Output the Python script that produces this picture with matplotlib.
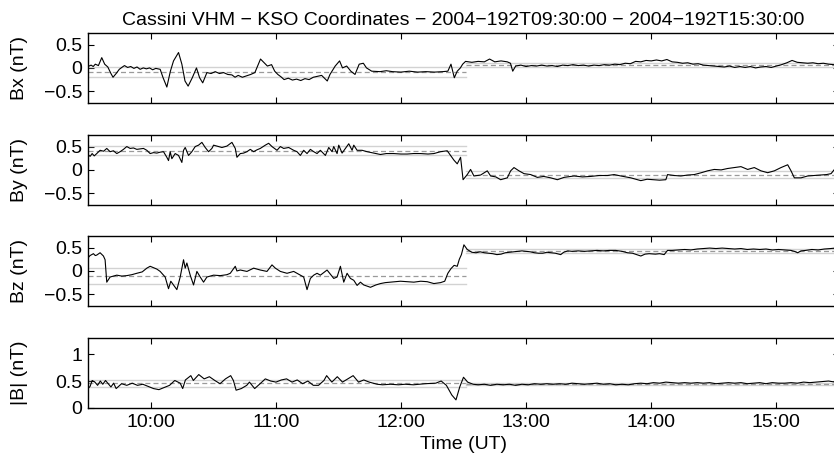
import numpy as np
import matplotlib
matplotlib.use('Agg')
import matplotlib.pyplot as plt

plt.rcParams['font.family'] = ['Liberation Sans', 'DejaVu Sans']

# field samples: [minutes after 09:30 UT, value in nT]
bx_pts = [[0, 0.03], [1.5, 0.06], [2.5, 0.03], [3.5, 0.08], [5, 0.05], [6.6, 0.22], [8, 0.08], [9.5, 0.02],
          [11, -0.12], [12, -0.2], [13.5, -0.12], [15, -0.03], [16.5, 0.02], [17.5, 0.05], [19, 0.01],
          [20.5, 0.03], [22, -0.01], [23.5, 0.02], [25, -0.03], [26.5, 0.0], [28, -0.02], [29.5, 0.0],
          [31, -0.04], [32.5, -0.01], [34.6, -0.03], [36, -0.21], [37.8, -0.41], [39.5, -0.07], [41, 0.15],
          [43.4, 0.33], [45, 0.08], [46.5, -0.28], [48, -0.39], [50, -0.21], [52, 0.0], [53.5, -0.21],
          [55, -0.32], [57, -0.1], [59, -0.12], [61, -0.08], [63, -0.12], [65, -0.1], [67, -0.14], [69, -0.15],
          [70.5, -0.2], [72, -0.16], [74, -0.2], [76, -0.17], [78, -0.14], [80, -0.1], [82.7, 0.19],
          [84.5, 0.11], [86, 0.04], [88, 0.07], [89.5, -0.07], [91, -0.14], [92.5, -0.19], [94, -0.25],
          [96, -0.22], [98, -0.26], [100, -0.24], [102, -0.27], [104, -0.23], [106, -0.25], [108, -0.2],
          [110, -0.18], [112, -0.16], [114.7, -0.28], [116, -0.14], [118.5, 0.04], [120.6, 0.15], [122, 0.0],
          [124, 0.04], [126, -0.07], [128, -0.14], [130, 0.08], [132, 0.1], [133.5, 0.0], [136, -0.07],
          [140, -0.08], [143, -0.06], [146, -0.08], [150, -0.09], [154, -0.07], [158, -0.09], [162, -0.08],
          [166, -0.09], [170, -0.08], [172.5, -0.07], [174, 0.08], [175.6, -0.21], [177, -0.07], [178.5, 0.0],
          [179.6, 0.08], [181, 0.14], [184, 0.12], [187, 0.14], [190, 0.13], [192.5, 0.19], [195, 0.13],
          [198, 0.15], [201, 0.13], [202.5, 0.1], [203.6, -0.07], [205, 0.04], [207.5, 0.06], [210, 0.03],
          [212.5, 0.05], [215, 0.04], [217.5, 0.06], [220, 0.04], [222.5, 0.05], [225, 0.03], [227.5, 0.06],
          [230, 0.05], [232.5, 0.07], [235, 0.05], [237.5, 0.06], [240, 0.04], [242.5, 0.06], [245, 0.05],
          [247.5, 0.07], [250, 0.06], [252.5, 0.08], [255, 0.07], [257.5, 0.1], [260, 0.09], [262.5, 0.14],
          [265, 0.13], [267.5, 0.16], [270, 0.15], [272.5, 0.17], [275, 0.15], [277.5, 0.18], [280, 0.13],
          [282.5, 0.12], [285, 0.1], [287.5, 0.11], [290, 0.08], [292.5, 0.09], [295, 0.06], [297.5, 0.05],
          [300, 0.04], [302.5, 0.03], [305, 0.02], [307.5, 0.04], [310, 0.01], [312.5, 0.03], [315, 0.01],
          [317.5, 0.03], [320, 0.0], [322.5, 0.02], [325, 0.03], [327.5, 0.01], [330, 0.04], [332.5, 0.07],
          [335, 0.11], [337.5, 0.16], [340, 0.12], [342.5, 0.11], [345, 0.1], [347.5, 0.11], [350, 0.09],
          [352.5, 0.1], [355, 0.08], [357.5, 0.07], [359, 0.03], [360, 0.05]]

by_pts = [[0, 0.33], [1, 0.29], [2, 0.35], [3, 0.3], [4.2, 0.35], [5.8, 0.42], [7.5, 0.4], [9, 0.46],
          [10.6, 0.39], [12.2, 0.41], [13.8, 0.35], [15.4, 0.39], [17, 0.44], [18.6, 0.5], [20.2, 0.46],
          [21.8, 0.47], [23.4, 0.44], [25, 0.45], [26.6, 0.46], [28.2, 0.42], [29.8, 0.35], [31.4, 0.37],
          [33, 0.36], [34.6, 0.38], [36.2, 0.39], [37.8, 0.27], [38.6, 0.2], [39.4, 0.39], [40.2, 0.24],
          [41.8, 0.35], [43.4, 0.31], [45, 0.16], [45.8, 0.42], [46.6, 0.48], [48.2, 0.31], [49.8, 0.39],
          [51.4, 0.5], [53, 0.53], [54.6, 0.59], [56.2, 0.48], [57.8, 0.39], [59.4, 0.46], [60.2, 0.53],
          [61.8, 0.51], [64.2, 0.48], [66.6, 0.51], [69, 0.59], [70.6, 0.46], [71.4, 0.27], [73, 0.35],
          [74.6, 0.36], [76.2, 0.39], [77.8, 0.44], [79.4, 0.39], [81, 0.43], [82.6, 0.46], [85, 0.53],
          [86.6, 0.57], [88.2, 0.5], [90.6, 0.42], [92.2, 0.5], [93.8, 0.46], [96.2, 0.48], [98.6, 0.42],
          [100.2, 0.39], [101.8, 0.31], [103.4, 0.42], [105, 0.35], [106.6, 0.44], [108.2, 0.39],
          [109.8, 0.35], [111.4, 0.42], [113.8, 0.31], [115.4, 0.48], [117, 0.39], [117.8, 0.5],
          [119.4, 0.35], [120.2, 0.53], [121.8, 0.36], [123.4, 0.46], [125, 0.56], [126.6, 0.42],
          [127.4, 0.53], [129, 0.42], [131.4, 0.42], [133.8, 0.39], [137, 0.36], [140.2, 0.33], [143, 0.35],
          [146.6, 0.35], [150, 0.34], [153, 0.34], [156, 0.35], [159.4, 0.35], [163, 0.34], [165.8, 0.35],
          [169, 0.39], [172.2, 0.41], [173.8, 0.31], [175.4, 0.21], [177, 0.13], [178.6, 0.27],
          [179.8, -0.21], [181.8, -0.1], [183.4, 0.01], [185, -0.13], [188.2, -0.11], [191.4, -0.02],
          [193, -0.13], [195.5, -0.15], [197.8, -0.21], [201, -0.17], [202.6, -0.02], [204.2, 0.05],
          [206.6, -0.02], [209, -0.08], [212.2, -0.1], [215.4, -0.16], [218.5, -0.14], [221.8, -0.17],
          [225, -0.21], [228.2, -0.16], [233, -0.13], [237, -0.15], [241, -0.14], [245, -0.12], [249, -0.12],
          [252.2, -0.1], [255.4, -0.13], [260.2, -0.17], [265, -0.23], [268, -0.2], [271.4, -0.21],
          [274, -0.22], [277, -0.21], [277.8, -0.1], [281, -0.12], [284.2, -0.13], [287.5, -0.11],
          [290.6, -0.1], [294, -0.06], [297, -0.02], [300.2, 0.01], [303.5, 0.0], [306.6, 0.03],
          [309.8, 0.05], [313, 0.07], [316.2, 0.01], [319.4, 0.05], [322.6, -0.02], [325.8, -0.06],
          [329, -0.02], [332.2, 0.05], [335.4, 0.11], [337, -0.02], [338.6, -0.17], [341.8, -0.17],
          [345, -0.13], [348, -0.12], [351.4, -0.11], [354, -0.1], [356.2, -0.08], [357.8, 0.01], [360, -0.05]]

bz_pts = [[0, 0.28], [1, 0.33], [2.6, 0.37], [3.5, 0.33], [4.2, 0.34], [5.8, 0.39], [7.4, 0.32], [8.2, 0.24],
          [9, -0.24], [10.6, -0.13], [12.2, -0.11], [13.8, -0.09], [16.2, -0.11], [18.6, -0.1], [21, -0.08],
          [23.4, -0.05], [26, -0.02], [28.2, 0.06], [29.8, 0.1], [31.4, 0.07], [33, 0.04], [34.6, -0.01],
          [37, -0.13], [38.6, -0.38], [39.7, -0.22], [41, -0.3], [42.6, -0.4], [44.2, -0.13], [45.8, 0.24],
          [46.6, 0.06], [47.4, 0.17], [49, -0.09], [50.6, -0.3], [52.2, -0.01], [53.8, -0.13], [55.4, -0.24],
          [57, -0.13], [60.2, -0.09], [63.4, -0.1], [66.6, -0.08], [68.2, -0.05], [70.6, 0.1], [71.4, 0.0],
          [73, 0.02], [76.2, -0.01], [79.4, 0.06], [82.6, 0.02], [85.8, -0.01], [88.2, 0.13], [89.8, 0.06],
          [92.2, -0.01], [95.4, -0.05], [98.6, -0.01], [101.8, -0.09], [103.4, -0.13], [105, -0.4],
          [106.6, -0.16], [108.2, -0.09], [109.8, -0.05], [111.4, -0.09], [114.6, 0.02], [117.8, -0.16],
          [119.4, -0.13], [121, 0.1], [122.6, -0.24], [124.2, -0.05], [125.8, -0.16], [127.4, -0.2],
          [129, -0.31], [130.6, -0.24], [132.2, -0.3], [135.4, -0.35], [138, -0.3], [140.2, -0.27],
          [142.5, -0.25], [145, -0.24], [149.8, -0.22], [153, -0.23], [156.2, -0.24], [159.5, -0.22],
          [162.6, -0.23], [165.8, -0.27], [169, -0.25], [171, -0.22], [172.5, -0.05], [174, 0.05],
          [175.5, 0.12], [177, 0.1], [178, 0.25], [179, 0.35], [180.2, 0.56], [181.8, 0.46], [184, 0.4],
          [186, 0.39], [188, 0.41], [190, 0.39], [192, 0.38], [194, 0.37], [196, 0.35], [198, 0.36],
          [200, 0.39], [202, 0.4], [204, 0.41], [206, 0.42], [208, 0.43], [210, 0.42], [212, 0.41],
          [214, 0.39], [216, 0.38], [218, 0.38], [220, 0.4], [222, 0.39], [224, 0.38], [226.6, 0.35],
          [228, 0.4], [230, 0.43], [232, 0.42], [235, 0.43], [238, 0.42], [241, 0.43], [244, 0.44],
          [247, 0.43], [250, 0.44], [253, 0.44], [256, 0.42], [258.6, 0.39], [261, 0.38], [263, 0.35],
          [265, 0.32], [267, 0.36], [269, 0.37], [272, 0.36], [274, 0.37], [276.2, 0.35], [277.8, 0.44],
          [280, 0.44], [283, 0.45], [286, 0.46], [289, 0.45], [292, 0.47], [295, 0.48], [298, 0.49],
          [301, 0.48], [304, 0.49], [307, 0.48], [310, 0.47], [313, 0.48], [316, 0.46], [319, 0.47],
          [322, 0.46], [325, 0.47], [328, 0.45], [331, 0.46], [334, 0.45], [337, 0.44], [338.6, 0.42],
          [340.2, 0.39], [341.8, 0.43], [344, 0.44], [347, 0.46], [350, 0.45], [353, 0.47], [356, 0.48],
          [358, 0.49], [360, 0.47]]

bt_pts = [[0, 0.36], [1, 0.4], [2, 0.51], [3.3, 0.48], [4.6, 0.42], [5.9, 0.5], [7.1, 0.44], [8.4, 0.51],
          [9.7, 0.45], [11, 0.39], [12.3, 0.46], [13.5, 0.36], [16.1, 0.45], [18.6, 0.42], [21.2, 0.46],
          [23.7, 0.42], [26.3, 0.44], [28.8, 0.4], [31.4, 0.36], [34, 0.34], [36.5, 0.38], [39.1, 0.42],
          [41.6, 0.51], [44.2, 0.46], [45.4, 0.36], [46.7, 0.52], [49.3, 0.6], [50.5, 0.51], [53.1, 0.62],
          [55.7, 0.54], [58.2, 0.58], [60.8, 0.51], [63.3, 0.45], [65.9, 0.54], [68.4, 0.6], [69.7, 0.51],
          [71, 0.33], [73.5, 0.36], [76.1, 0.42], [77.4, 0.48], [79.9, 0.36], [82.5, 0.45], [85, 0.54],
          [87.6, 0.5], [90.1, 0.48], [92.7, 0.52], [95.2, 0.54], [97.8, 0.48], [100.3, 0.52], [102.9, 0.45],
          [105.4, 0.5], [108, 0.42], [110.5, 0.42], [113.1, 0.51], [114.4, 0.6], [116.9, 0.48], [119.5, 0.58],
          [122, 0.48], [124.6, 0.54], [127.1, 0.6], [129.7, 0.48], [132.2, 0.52], [134.8, 0.48],
          [138.6, 0.44], [141.2, 0.43], [145, 0.44], [148.8, 0.43], [152, 0.44], [156, 0.43], [161.6, 0.45],
          [166.7, 0.46], [169.3, 0.5], [171.8, 0.42], [173.1, 0.33], [174.4, 0.24], [176.4, 0.15],
          [178.2, 0.39], [180, 0.57], [182, 0.48], [184.6, 0.44], [187, 0.43], [190, 0.44], [193, 0.42],
          [196, 0.44], [199, 0.43], [202, 0.44], [205, 0.42], [208, 0.44], [211, 0.43], [214, 0.45],
          [217, 0.44], [220, 0.45], [223, 0.44], [226, 0.45], [229, 0.44], [232, 0.46], [235, 0.45],
          [238, 0.44], [241, 0.45], [244, 0.46], [247, 0.44], [250, 0.45], [253, 0.43], [256, 0.44],
          [259, 0.43], [262, 0.45], [265, 0.46], [268, 0.45], [271, 0.47], [274, 0.46], [277, 0.48],
          [280, 0.47], [283, 0.46], [286, 0.47], [289, 0.46], [292, 0.47], [295, 0.46], [298, 0.47],
          [301, 0.45], [304, 0.46], [307, 0.47], [310, 0.46], [313, 0.47], [316, 0.45], [319, 0.46],
          [322, 0.47], [325, 0.45], [328, 0.47], [331, 0.46], [334, 0.46], [337, 0.47], [340, 0.46],
          [343, 0.48], [346, 0.47], [349, 0.48], [352, 0.49], [355, 0.5], [358, 0.48], [360, 0.48]]

# interval averages (dashed) and mean +/- std (light grey), before / after 12:31
seg_edges = [0, 181, 360]
bx_mean, bx_std = [-0.09, 0.07], [0.11, 0.04]
by_mean, by_std = [0.41, -0.1], [0.095, 0.07]
bz_mean, bz_std = [-0.11, 0.43], [0.18, 0.04]
bt_mean, bt_std = [0.455, 0.44], [0.065, 0.02]

labels = ['Bx (nT)', 'By (nT)', 'Bz (nT)', '|B| (nT)']
hour_ticks = [10, 11, 12, 13, 14, 15]
hour_labels = ['10:00', '11:00', '12:00', '13:00', '14:00', '15:00']

panels = [(bx_pts, bx_mean, bx_std, (-0.75, 0.75), [-0.5, 0, 0.5], ['\u22120.5', '0', '0.5']),
          (by_pts, by_mean, by_std, (-0.75, 0.75), [-0.5, 0, 0.5], ['\u22120.5', '0', '0.5']),
          (bz_pts, bz_mean, bz_std, (-0.75, 0.75), [-0.5, 0, 0.5], ['\u22120.5', '0', '0.5']),
          (bt_pts, bt_mean, bt_std, (0, 1.3), [0, 0.5, 1], ['0', '0.5', '1'])]

fig = plt.figure(figsize=(8.34, 4.70), dpi=100)
bottoms = [0.781, 0.564, 0.349, 0.132]
fs = 14

for i, (pts, mean, std, ylim, yt, ytl) in enumerate(panels):
    # right edge sits just past the figure, as in the original export
    ax = fig.add_axes([0.1055, bottoms[i], 0.9005, 0.149])
    pts = np.array(pts)
    for k in range(2):
        t0 = 9.5 + seg_edges[k] / 60
        t1 = 9.5 + seg_edges[k + 1] / 60
        ax.plot([t0, t1], [mean[k] + std[k]] * 2, color='#d2d2d2', lw=1.0)
        ax.plot([t0, t1], [mean[k] - std[k]] * 2, color='#d2d2d2', lw=1.0)
        ax.plot([t0, t1], [mean[k]] * 2, color='#9a9a9a', lw=0.9, dashes=(4, 2.5))
    ax.plot(9.5 + pts[:, 0] / 60, pts[:, 1], color='black', lw=0.8)

    ax.set_xlim(9.5, 15.5)
    ax.set_ylim(*ylim)
    ax.set_yticks(yt)
    ax.set_yticklabels(ytl)
    ax.set_xticks(hour_ticks)
    if i == 3:
        ax.set_xticklabels(hour_labels)
        ax.set_xlabel('Time (UT)', fontsize=fs, labelpad=4)
    else:
        ax.set_xticklabels([])
    ax.tick_params(direction='in', top=True, right=True, length=4.5, width=0.8,
                   labelsize=fs, pad=4)
    for sp in ax.spines.values():
        sp.set_linewidth(1.0)
    fig.text(20 / 834, bottoms[i] + 0.149 / 2, labels[i], rotation=90,
             ha='center', va='center', fontsize=fs)
    if i == 0:
        ax.set_title('Cassini VHM \u2212 KSO Coordinates \u2212 2004\u2212192T09:30:00 \u2212 2004\u2212192T15:30:00',
                     fontsize=fs, pad=6)

fig.savefig('out.png', dpi=100)
